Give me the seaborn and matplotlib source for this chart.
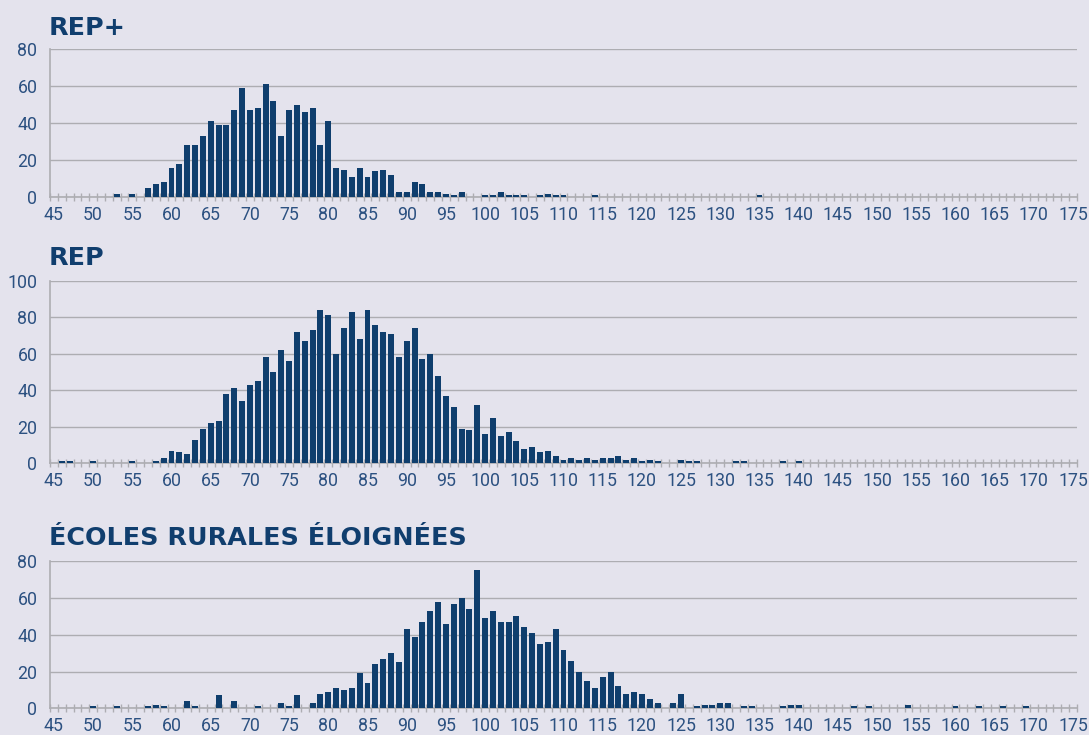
import numpy as np
import pandas as pd
import seaborn as sns
import matplotlib
matplotlib.use("Agg")
import matplotlib.pyplot as plt
from matplotlib.ticker import FixedLocator

# ---------------- data ----------------
scores = list(range(45, 176))

rep_plus_scores = [53, 55, 57, 58, 59, 60, 61, 62, 63, 64, 65, 66, 67, 68, 69, 70,
                   71, 72, 73, 74, 75, 76, 77, 78, 79, 80, 81, 82, 83, 84, 85, 86,
                   87, 88, 89, 90, 91, 92, 93, 94, 95, 96, 97, 100, 101, 102, 103,
                   104, 105, 107, 108, 109, 110, 114, 135]
rep_plus_counts = [2, 2, 5, 7, 8, 16, 18, 28, 28, 33, 41, 39, 39, 47, 59, 47,
                   48, 61, 52, 33, 47, 50, 46, 48, 28, 41, 16, 15, 11, 16, 11, 14,
                   15, 12, 3, 3, 8, 7, 3, 3, 2, 1, 3, 1, 1, 3, 1,
                   1, 1, 1, 2, 1, 1, 1, 1]

rep_scores = [46, 47, 50, 55, 58, 59, 60, 61, 62, 63, 64, 65, 66, 67, 68, 69, 70,
              71, 72, 73, 74, 75, 76, 77, 78, 79, 80, 81, 82, 83, 84, 85, 86,
              87, 88, 89, 90, 91, 92, 93, 94, 95, 96, 97, 98, 99, 100, 101, 102,
              103, 104, 105, 106, 107, 108, 109, 110, 111, 112, 113, 114, 115,
              116, 117, 118, 119, 120, 121, 122, 125, 126, 127, 132, 133, 138, 140]
rep_counts = [1, 1, 1, 1, 1, 3, 7, 6, 5, 13, 19, 22, 23, 38, 41, 34, 43,
              45, 58, 50, 62, 56, 72, 67, 73, 84, 81, 60, 74, 83, 68, 84, 76,
              72, 71, 58, 67, 74, 57, 60, 48, 37, 31, 19, 18, 32, 16, 25, 15,
              17, 12, 8, 9, 6, 7, 4, 2, 3, 2, 3, 2, 3,
              3, 4, 2, 3, 1, 2, 1, 2, 1, 1, 1, 1, 1, 1]

rural_scores = [50, 53, 57, 58, 59, 62, 63, 66, 68, 71, 74, 75, 76, 78, 79, 80,
                81, 82, 83, 84, 85, 86, 87, 88, 89, 90, 91, 92, 93, 94, 95, 96,
                97, 98, 99, 100, 101, 102, 103, 104, 105, 106, 107, 108, 109, 110,
                111, 112, 113, 114, 115, 116, 117, 118, 119, 120, 121, 122, 124,
                125, 127, 128, 129, 130, 131, 133, 134, 138, 139, 140, 147, 149,
                154, 160, 163, 166, 169]
rural_counts = [1, 1, 1, 2, 1, 4, 1, 7, 4, 1, 3, 1, 7, 3, 8, 9,
                11, 10, 11, 19, 14, 24, 27, 30, 25, 43, 39, 47, 53, 58, 46, 57,
                60, 54, 75, 49, 53, 47, 47, 50, 44, 41, 35, 36, 43, 32,
                26, 20, 15, 11, 17, 20, 12, 8, 9, 8, 5, 3, 3,
                8, 1, 2, 2, 3, 3, 1, 1, 1, 2, 2, 1, 1,
                2, 1, 1, 1, 1]

titles = ["REP+", "REP", "ÉCOLES RURALES ÉLOIGNÉES"]
y_maxes = [80, 100, 80]

# ---------------- style ----------------
BG = "#E4E3ED"
BAR = "#0F3E6D"
TITLE_C = "#103E6E"
LABEL_C = "#2C5181"
GRID_C = "#ADADB2"

sns.set_theme(style="white")
plt.rcParams["font.family"] = ["Roboto", "DejaVu Sans"]

fig = plt.figure(figsize=(10.89, 7.35), dpi=100, facecolor=BG)
W, H = 1089, 735

# axes boxes in pixels: (top_px, bottom_px)
boxes = [(49.3, 197.3), (280.7, 463.3), (561.3, 708.3)]
title_base = [35, 265, 545]
left_px, right_px = 50, 1077

series = [(rep_plus_scores, rep_plus_counts),
          (rep_scores, rep_counts),
          (rural_scores, rural_counts)]

for i, ((sc, ct), (top, bot)) in enumerate(zip(series, boxes)):
    ax = fig.add_axes([left_px / W, (H - bot) / H, (right_px - left_px) / W, (bot - top) / H])
    ax.set_facecolor(BG)
    full = pd.Series(ct, index=sc).reindex(scores, fill_value=0)
    df = pd.DataFrame({"score": scores, "count": full.values})
    sns.barplot(data=df, x="score", y="count", order=scores, color=BAR,
                saturation=1, width=0.76, ax=ax, zorder=3,
                edgecolor="none", linewidth=0)
    ax.set_xlim(-0.5, len(scores) - 0.5)
    ax.set_ylim(0, y_maxes[i])
    ax.set_yticks(range(0, y_maxes[i] + 1, 20))
    ax.yaxis.grid(True, color=GRID_C, lw=1.0, zorder=0)
    ax.xaxis.grid(False)
    ax.set_axisbelow(True)
    idx = list(range(0, len(scores), 5))
    ax.set_xticks(idx)
    ax.set_xticklabels([str(scores[k]) for k in idx])
    ax.xaxis.set_minor_locator(FixedLocator(np.arange(-0.5, len(scores), 1.0)))
    ax.tick_params(axis="x", which="major", bottom=True, length=0, pad=6,
                   labelsize=12.8, labelcolor=LABEL_C)
    ax.tick_params(axis="x", which="minor", bottom=True, length=6,
                   direction="inout", color=GRID_C, width=1)
    ax.tick_params(axis="y", which="major", length=0, pad=9, labelsize=12.8,
                   labelcolor=LABEL_C)
    ax.set_xlabel("")
    ax.set_ylabel("")
    for s in ["top", "right"]:
        ax.spines[s].set_visible(False)
    for s in ["left", "bottom"]:
        ax.spines[s].set_color(GRID_C)
        ax.spines[s].set_linewidth(1.2)
    fig.text(49 / W, (H - title_base[i]) / H, titles[i], fontsize=18.3,
             fontweight="heavy", family=["DejaVu Sans"], color=TITLE_C,
             ha="left", va="baseline")

fig.savefig("out.png", dpi=100, facecolor=BG)
